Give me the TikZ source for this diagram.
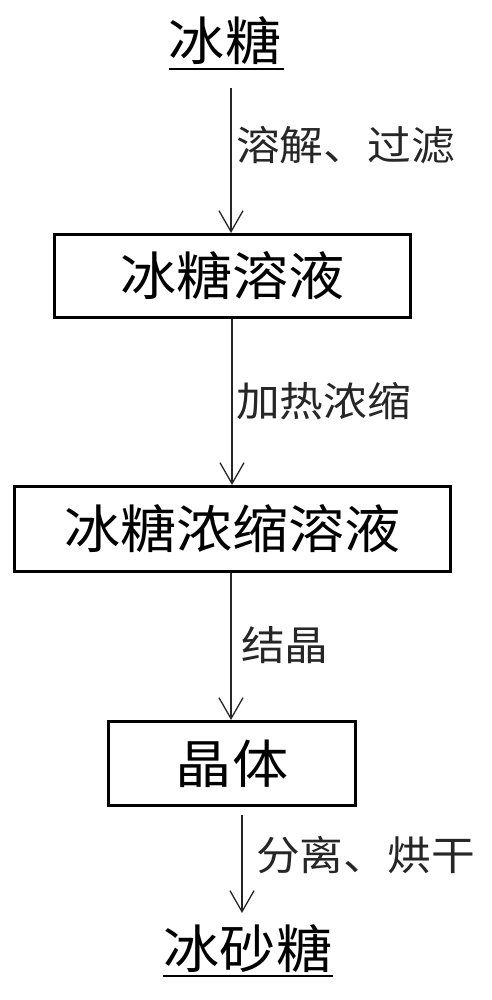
\documentclass[tikz,border=0pt]{standalone}
\usepackage{fontspec}
\newfontfamily\cjk[FakeStretch=1.08]{Noto Sans CJK SC}
\usetikzlibrary{arrows.meta}
\begin{document}
\begin{tikzpicture}[x=1pt,y=-1pt,
  boxstyle/.style={draw=black, line width=3pt, inner sep=0pt, font=\cjk\fontsize{52}{52}\selectfont, text=black},
  bigtext/.style={inner sep=0pt, font=\cjk\fontsize{52}{52}\selectfont, text=black},
  lbl/.style={inner sep=0pt, anchor=west, font=\cjk\fontsize{40.5}{40.5}\selectfont, text=black!85},
  arr/.style={line width=1.3pt, draw=black!85, -{Straight Barb[length=21pt,width=24pt,line width=1.3pt]}},
  uline/.style={line width=1.5pt, draw=black}]
\useasboundingbox[fill=white] (0,0) rectangle (491,1000);

\node[bigtext] (top) at (225,41) {冰糖};
\coordinate (ulTl) at (169,69);
\coordinate (ulTr) at (284,69);
\draw[uline] (ulTl) -- (ulTr);

\node[boxstyle, minimum width=356pt, minimum height=83pt] (b1) at (232.5,276) {冰糖溶液};
\node[boxstyle, minimum width=436pt, minimum height=85pt] (b2) at (232.5,529) {冰糖浓缩溶液};
\node[boxstyle, minimum width=247pt, minimum height=84pt] (b3) at (232,763.5) {晶体};

\node[bigtext] (bot) at (248,949) {冰砂糖};
\coordinate (ulBl) at (163,976);
\coordinate (ulBr) at (333,976);
\draw[uline] (ulBl) -- (ulBr);

\coordinate (a1s) at (231,88);
\draw[arr] (a1s) -- (a1s |- b1.north);
\node[lbl] (l1) at (236,145) {溶解、过滤};

\coordinate (a2s) at (232,0);
\draw[arr] (a2s |- b1.south) -- (a2s |- b2.north);
\node[lbl] (l2) at (236,401) {加热浓缩};

\coordinate (a3s) at (231,0);
\draw[arr] (a3s |- b2.south) -- (a3s |- b3.north);
\node[lbl] (l3) at (241,645) {结晶};

\coordinate (a4s) at (242,815);
\coordinate (a4e) at (242,913);
\draw[arr] (a4s) -- (a4e);
\node[lbl] (l4) at (256,855) {分离、烘干};
\end{tikzpicture}
\end{document}
